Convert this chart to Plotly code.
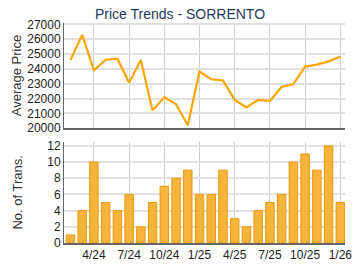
import plotly.graph_objects as go
from plotly.subplots import make_subplots

months = ["2/24","3/24","4/24","5/24","6/24","7/24","8/24","9/24","10/24","11/24","12/24",
          "1/25","2/25","3/25","4/25","5/25","6/25","7/25","8/25","9/25","10/25","11/25","12/25","1/26"]
avg_price = [24600, 26300, 23900, 24620, 24690, 23070, 24600, 21200, 22090, 21620, 20200,
             23820, 23310, 23220, 21910, 21400, 21910, 21840, 22780, 22980, 24160, 24290, 24510, 24820]
trans = [1, 4, 10, 5, 4, 6, 2, 5, 7, 8, 9, 6, 6, 9, 3, 2, 4, 5, 6, 10, 11, 9, 12, 5]
tick_labels = ["4/24", "7/24", "10/24", "1/25", "4/25", "7/25", "10/25", "1/26"]
price_ticks = [20000, 21000, 22000, 23000, 24000, 25000, 26000, 27000]
trans_ticks = [0, 2, 4, 6, 8, 10, 12]

x = list(range(len(months)))
tick_vals = [months.index(t) for t in tick_labels]

fig = make_subplots(rows=2, cols=1, shared_xaxes=False, vertical_spacing=0.0)

fig.add_trace(go.Scatter(x=x, y=avg_price, mode="lines",
                         line=dict(color="#FFA500", width=2.2), hoverinfo="skip"), row=1, col=1)
fig.add_trace(go.Bar(x=x, y=trans, width=0.72,
                     marker=dict(color="#F6B43A", line=dict(color="#E8990F", width=1)),
                     hoverinfo="skip"), row=2, col=1)

font = "Liberation Sans, Arial, sans-serif"
xr = [-0.55, 23.4]
fig.update_layout(
    width=360, height=270,
    margin=dict(l=64, r=8, t=23, b=26),
    paper_bgcolor="white", plot_bgcolor="white",
    showlegend=False,
    font=dict(family=font, size=12, color="#222"),
    title=dict(text="Price Trends - SORRENTO", x=0.5, xanchor="center", y=0.965, yanchor="top",
               font=dict(family=font, size=14, color="#1F3B5F")),
    xaxis=dict(domain=[0, 1], range=xr, tickvals=tick_vals, ticktext=[""] * len(tick_vals),
               showgrid=True, gridcolor="#d0d0d0", gridwidth=1, zeroline=False,
               showline=True, linecolor="#666", linewidth=1.5, ticks="", anchor="y"),
    yaxis=dict(domain=[0.522, 1], range=[20000, 27100], tickvals=price_ticks,
               ticktext=[str(v) for v in price_ticks],
               showgrid=True, gridcolor="#e0e0e0", gridwidth=2, zeroline=False,
               showline=True, linecolor="#666", linewidth=1, ticks="",
               title=dict(text="Average Price", standoff=2, font=dict(size=13, color="#333")),
               tickfont=dict(size=12, color="#222")),
    xaxis2=dict(domain=[0, 1], range=xr, tickvals=tick_vals, ticktext=tick_labels,
                showgrid=True, gridcolor="#d0d0d0", gridwidth=1, zeroline=False,
                showline=True, linecolor="#666", linewidth=1.5, ticks="", anchor="y2",
                tickfont=dict(size=12, color="#222")),
    yaxis2=dict(domain=[0, 0.46], range=[0, 12.5], tickvals=trans_ticks,
                ticktext=[str(v) for v in trans_ticks],
                showgrid=True, gridcolor="#e0e0e0", gridwidth=2, zeroline=False,
                showline=True, linecolor="#666", linewidth=1, ticks="",
                title=dict(text="No. of Trans.", standoff=21, font=dict(size=13, color="#333")),
                tickfont=dict(size=12, color="#222")),
    bargap=0.28,
)

fig.write_html("out.html")
